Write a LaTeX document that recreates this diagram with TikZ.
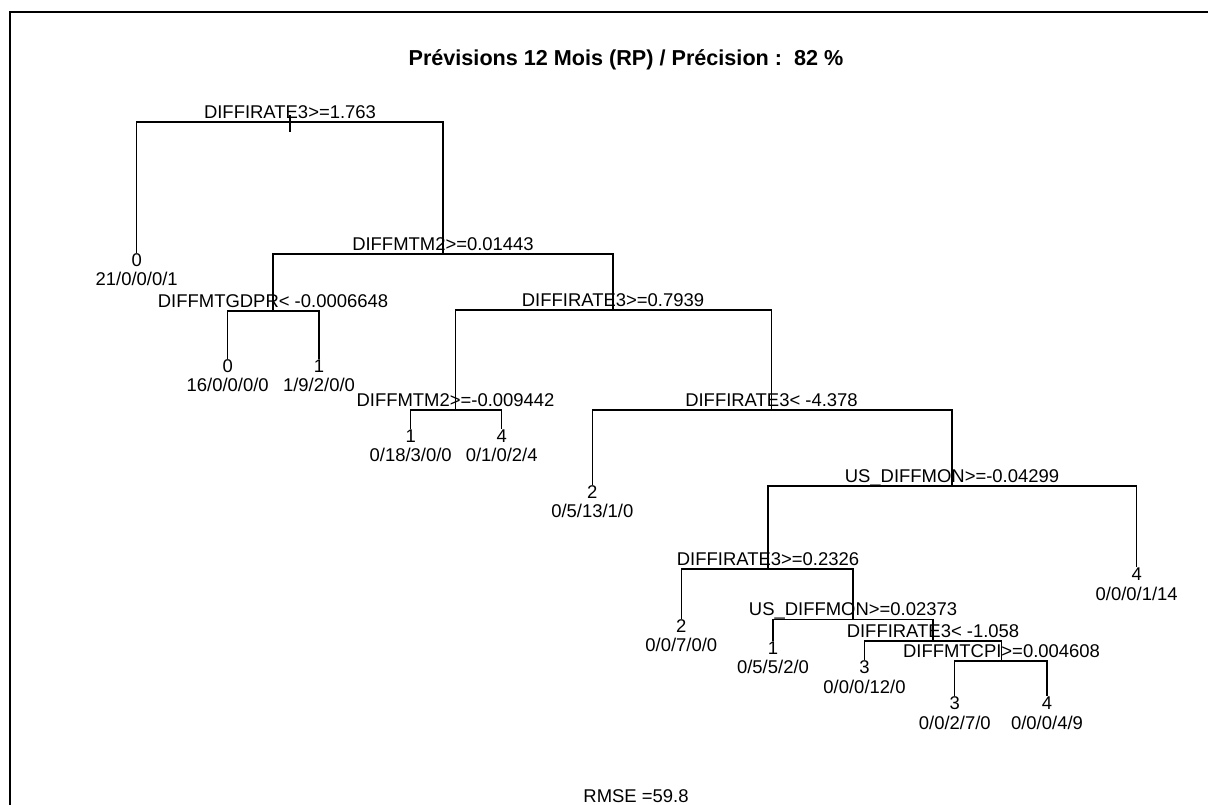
\documentclass[tikz,border=0pt]{standalone}
\usepackage{fontspec}
\setmainfont{Liberation Sans}
\usetikzlibrary{positioning}

\begin{document}
\begin{tikzpicture}[
      x=0.02cm, y=-0.02cm,
      every node/.style={font=\fontsize{10.5}{12}\selectfont, inner sep=0pt},
      br/.style={line width=0.7pt},
      splitlab/.style={anchor=base, yshift=0.08cm},
      cls/.style={anchor=base, yshift=-0.26cm},
      cnt/.style={anchor=base, yshift=-0.66cm}
    ]
      \useasboundingbox (0,0) rectangle (1208,805);
      \draw[line width=1.2pt] (10,805) -- (10,12) -- (1208,12);

      \node[anchor=base, font=\bfseries\fontsize{12.3}{14}\selectfont] (title) at (626,65)
        {Prévisions 12 Mois (RP) / Précision :~~82~\%};

      % splits
      \coordinate (r) at (290,122);
      \coordinate (s2) at (443,254);
      \coordinate (s3) at (273,311);
      \coordinate (s4) at (613,310);
      \coordinate (s5) at (455.5,410);
      \coordinate (s6) at (771.5,410);
      \coordinate (s7) at (952,486);
      \coordinate (s8) at (768,569);
      \coordinate (s9) at (853,619.5);
      \coordinate (s10) at (933,641);
      \coordinate (s11) at (1001.5,661);

      % leaves
      \coordinate (l1) at (136.7,253);
      \coordinate (l2) at (227.7,359);
      \coordinate (l3) at (319,359);
      \coordinate (l4) at (410.7,429);
      \coordinate (l5) at (501.7,429);
      \coordinate (l6) at (592.3,485);
      \coordinate (l7) at (681.3,619);
      \coordinate (l8) at (773,641);
      \coordinate (l9) at (864.5,660);
      \coordinate (l10) at (954.8,696);
      \coordinate (l11) at (1047,696);
      \coordinate (l12) at (1136.7,567);

      % branches
      \draw[br] ([yshift=0.14cm]r) -- ([yshift=-0.2cm]r);
      \draw[br] (r) -| (l1);
      \draw[br] (r) -| (s2);
      \draw[br] (s2) -| (s3);
      \draw[br] (s2) -| (s4);
      \draw[br] (s3) -| (l2);
      \draw[br] (s3) -| (l3);
      \draw[br] (s4) -| (s5);
      \draw[br] (s4) -| (s6);
      \draw[br] (s5) -| (l4);
      \draw[br] (s5) -| (l5);
      \draw[br] (s6) -| (l6);
      \draw[br] (s6) -| (s7);
      \draw[br] (s7) -| (s8);
      \draw[br] (s7) -| (l12);
      \draw[br] (s8) -| (l7);
      \draw[br] (s8) -| (s9);
      \draw[br] (s9) -| (l8);
      \draw[br] (s9) -| (s10);
      \draw[br] (s10) -| (l9);
      \draw[br] (s10) -| (s11);
      \draw[br] (s11) -| (l10);
      \draw[br] (s11) -| (l11);

      % split labels
      \node[splitlab] (r-t) at (r) {DIFFIRATE3>=1.763};
      \node[splitlab] (s2-t) at (s2) {DIFFMTM2>=0.01443};
      \node[splitlab] (s3-t) at (s3) {DIFFMTGDPR< -0.0006648};
      \node[splitlab] (s4-t) at (s4) {DIFFIRATE3>=0.7939};
      \node[splitlab] (s5-t) at (s5) {DIFFMTM2>=-0.009442};
      \node[splitlab] (s6-t) at (s6) {DIFFIRATE3< -4.378};
      \node[splitlab] (s7-t) at (s7) {US\_DIFFMON>=-0.04299};
      \node[splitlab] (s8-t) at (s8) {DIFFIRATE3>=0.2326};
      \node[splitlab] (s9-t) at (s9) {US\_DIFFMON>=0.02373};
      \node[splitlab] (s10-t) at (s10) {DIFFIRATE3< -1.058};
      \node[splitlab] (s11-t) at (s11) {DIFFMTCPI>=0.004608};

      % leaf labels
      \node[cls] (l1-c) at (l1) {0};   \node[cnt] (l1-n) at (l1) {21/0/0/0/1};
      \node[cls] (l2-c) at (l2) {0};   \node[cnt] (l2-n) at (l2) {16/0/0/0/0};
      \node[cls] (l3-c) at (l3) {1};   \node[cnt] (l3-n) at (l3) {1/9/2/0/0};
      \node[cls] (l4-c) at (l4) {1};   \node[cnt] (l4-n) at (l4) {0/18/3/0/0};
      \node[cls] (l5-c) at (l5) {4};   \node[cnt] (l5-n) at (l5) {0/1/0/2/4};
      \node[cls] (l6-c) at (l6) {2};   \node[cnt] (l6-n) at (l6) {0/5/13/1/0};
      \node[cls] (l7-c) at (l7) {2};   \node[cnt] (l7-n) at (l7) {0/0/7/0/0};
      \node[cls] (l8-c) at (l8) {1};   \node[cnt] (l8-n) at (l8) {0/5/5/2/0};
      \node[cls] (l9-c) at (l9) {3};   \node[cnt] (l9-n) at (l9) {0/0/0/12/0};
      \node[cls] (l10-c) at (l10) {3}; \node[cnt] (l10-n) at (l10) {0/0/2/7/0};
      \node[cls] (l11-c) at (l11) {4}; \node[cnt] (l11-n) at (l11) {0/0/0/4/9};
      \node[cls] (l12-c) at (l12) {4}; \node[cnt] (l12-n) at (l12) {0/0/0/1/14};

      \node[anchor=base] (rmse) at (636,802) {RMSE =59.8};
    \end{tikzpicture}
\end{document}
